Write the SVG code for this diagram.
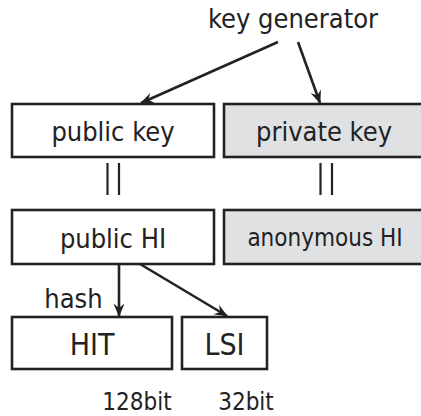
<svg xmlns="http://www.w3.org/2000/svg" width="421" height="416" viewBox="0 0 421 416">
  <style>
    .box { fill: #ffffff; stroke: #222222; stroke-width: 2.6; }
    .box.shade { fill: #e0e1e2; }
    .lbl { font-family: "DejaVu Sans Condensed", "DejaVu Sans", sans-serif; font-stretch: condensed; font-size: 27px; fill: #222222; text-anchor: middle; }
    .sm { font-size: 24px; }
    .lg { font-size: 30px; }
    .edge { stroke: #222222; stroke-width: 2.6; fill: none; }
    .eq { stroke: #222222; stroke-width: 2.2; fill: none; }
  </style>
  <defs>
    <marker id="arrow" viewBox="0 0 14 12" refX="13" refY="6" markerWidth="14" markerHeight="12" markerUnits="userSpaceOnUse" orient="auto">
      <path d="M14,6 L0.5,0.5 L5,6 L0.5,11.5 Z" fill="#222222"/>
    </marker>
  </defs>

  <rect width="421" height="416" fill="#ffffff"/>

  <text class="lbl" x="293" y="28">key generator</text>

  <g id="public-key">
    <rect class="box" x="12" y="104" width="202" height="53"/>
    <text class="lbl" x="113" y="141">public key</text>
  </g>
  <g id="private-key">
    <rect class="box shade" x="224" y="104" width="202" height="53"/>
    <text class="lbl" x="324" y="141">private key</text>
  </g>
  <g id="public-hi">
    <rect class="box" x="12" y="210" width="202" height="54"/>
    <text class="lbl" x="113" y="248">public HI</text>
  </g>
  <g id="anonymous-hi">
    <rect class="box shade" x="224" y="210" width="202" height="54"/>
    <text class="lbl sm" x="325" y="246">anonymous HI</text>
  </g>
  <g id="hit">
    <rect class="box" x="12" y="317" width="160" height="52"/>
    <text class="lbl lg" x="92" y="355">HIT</text>
  </g>
  <g id="lsi">
    <rect class="box" x="182" y="317" width="85" height="52"/>
    <text class="lbl lg" x="224.5" y="355">LSI</text>
  </g>

  <text class="lbl" x="73.5" y="308">hash</text>
  <text class="lbl sm" x="137" y="410">128bit</text>
  <text class="lbl sm" x="246" y="410">32bit</text>

  <g id="connectors">
    <line class="edge" x1="278" y1="42" x2="141" y2="103" marker-end="url(#arrow)"/>
    <line class="edge" x1="298" y1="42" x2="320" y2="103" marker-end="url(#arrow)"/>
    <line class="edge" x1="119" y1="264" x2="119" y2="316" marker-end="url(#arrow)"/>
    <line class="edge" x1="140" y1="264" x2="227" y2="316" marker-end="url(#arrow)"/>
    <!-- equality marks between key and HI -->
    <line class="eq" x1="107.5" y1="163" x2="107.5" y2="195"/>
    <line class="eq" x1="119" y1="163" x2="119" y2="195"/>
    <line class="eq" x1="320.5" y1="163" x2="320.5" y2="195"/>
    <line class="eq" x1="332" y1="163" x2="332" y2="195"/>
  </g>
</svg>
